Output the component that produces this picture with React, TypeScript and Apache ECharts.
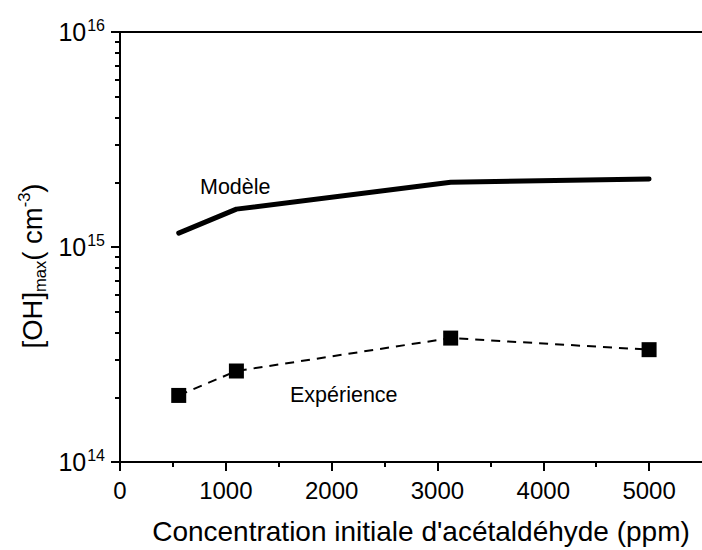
import React, { useEffect, useRef } from "react";
import * as echarts from "echarts";

const concentrations = [555, 1100, 3125, 5000];
const modelValues = [1.16e15, 1.5e15, 2.0e15, 2.07e15];
const experienceValues = [2.04e14, 2.65e14, 3.77e14, 3.33e14];
const xMajorTicks = [0, 1000, 2000, 3000, 4000, 5000];
const xMinorTicks = [500, 1500, 2500, 3500, 4500];
const yDecades = [14, 15, 16];
const yMinorMultipliers = [2, 3, 4, 5, 6, 7, 8, 9];

const FONT = "Liberation Sans, Arial, sans-serif";

export default function App() {
  const ref = useRef<HTMLDivElement>(null);
  useEffect(() => {
    if (!ref.current) return;
    const chart = echarts.init(ref.current, undefined, { renderer: "svg" });
    const yMinor: number[] = [];
    for (let d = 14; d < 16; d++) {
      for (const m of yMinorMultipliers) yMinor.push(Math.log10(m) + d);
    }
    const axisLineStyle = { color: "#000", width: 2 };
    chart.setOption({
      animation: false,
      backgroundColor: "#fff",
      textStyle: { fontFamily: FONT, color: "#000" },
      grid: { left: 120, top: 32, width: 589.6, height: 433, containLabel: false },
      xAxis: [
        {
          type: "value",
          min: 0,
          max: 5500,
          position: "bottom",
          name: "Concentration initiale d'acétaldéhyde (ppm)",
          nameLocation: "middle",
          nameGap: 55,
          nameTextStyle: { fontSize: 28, color: "#000", fontFamily: FONT, align: "center", padding: [0, 0, 0, 20] },
          axisLine: { show: true, lineStyle: axisLineStyle },
          axisTick: { show: true, length: 9, lineStyle: axisLineStyle, customValues: xMajorTicks },
          axisLabel: {
            show: true,
            customValues: xMajorTicks,
            fontSize: 24,
            color: "#000",
            fontFamily: FONT,
            margin: 16,
            formatter: (v: number) => String(v),
          },
          splitLine: { show: false },
        },
        {
          type: "value",
          min: 0,
          max: 5500,
          position: "bottom",
          axisLine: { show: false },
          axisTick: { show: true, length: 5, lineStyle: axisLineStyle, customValues: xMinorTicks },
          axisLabel: { show: false },
          splitLine: { show: false },
        },
        {
          type: "value",
          min: 0,
          max: 5500,
          position: "top",
          axisLine: { show: true, lineStyle: axisLineStyle },
          axisTick: { show: false },
          axisLabel: { show: false },
          splitLine: { show: false },
        },
      ],
      yAxis: [
        {
          type: "value",
          min: 14,
          max: 16,
          position: "left",
          axisLine: { show: true, lineStyle: axisLineStyle },
          axisTick: { show: true, length: 9, lineStyle: axisLineStyle, customValues: yDecades },
          axisLabel: {
            show: true,
            customValues: yDecades,
            margin: 15,
            formatter: (v: number) => `{b|10}{s|${Math.round(v)}}`,
            rich: {
              b: { fontSize: 25, fontFamily: FONT, color: "#000" },
              s: { fontSize: 16, fontFamily: FONT, color: "#000", verticalAlign: "top", padding: [0, 0, 14, 1] },
            },
          },
          splitLine: { show: false },
        },
        {
          type: "value",
          min: 14,
          max: 16,
          position: "left",
          axisLine: { show: false },
          axisTick: { show: true, length: 5, lineStyle: axisLineStyle, customValues: yMinor },
          axisLabel: { show: false },
          splitLine: { show: false },
        },
      ],
      series: [
        {
          name: "Modèle",
          type: "line",
          xAxisIndex: 0,
          yAxisIndex: 0,
          data: concentrations.map((x, i) => [x, Math.log10(modelValues[i])]),
          showSymbol: false,
          symbol: "none",
          lineStyle: { color: "#000", width: 5, cap: "round", join: "round" },
        },
        {
          name: "Expérience",
          type: "line",
          xAxisIndex: 0,
          yAxisIndex: 0,
          data: concentrations.map((x, i) => [x, Math.log10(experienceValues[i])]),
          symbol: "rect",
          symbolSize: 15,
          itemStyle: { color: "#000" },
          lineStyle: { color: "#000", width: 2, type: [9, 7] },
        },
      ],
      graphic: [
        { type: "text", left: 200, top: 176, style: { text: "Modèle", fontSize: 21.5, fontFamily: FONT, fill: "#000" } },
        { type: "text", left: 290, top: 384, style: { text: "Expérience", fontSize: 21.5, fontFamily: FONT, fill: "#000" } },
        {
          type: "text",
          x: 32,
          y: 266,
          rotation: Math.PI / 2,
          style: {
            text: "{a|[OH]}{b|max}{a|( cm}{c|-3}{a|)}",
            align: "center",
            verticalAlign: "middle",
            fill: "#000",
            fontFamily: FONT,
            rich: {
              a: { fontSize: 27.5, fontFamily: FONT, fill: "#000" },
              b: { fontSize: 16.5, fontFamily: FONT, fill: "#000", verticalAlign: "bottom", padding: [16, 0, 0, 0] },
              c: { fontSize: 16.5, fontFamily: FONT, fill: "#000", verticalAlign: "top", padding: [0, 0, 14, 0] },
            },
          },
        },
      ],
    });
    return () => chart.dispose();
  }, []);
  return <div ref={ref} style={{ position: "absolute", left: 0, top: 0, width: 702, height: 550 }} />;
}
